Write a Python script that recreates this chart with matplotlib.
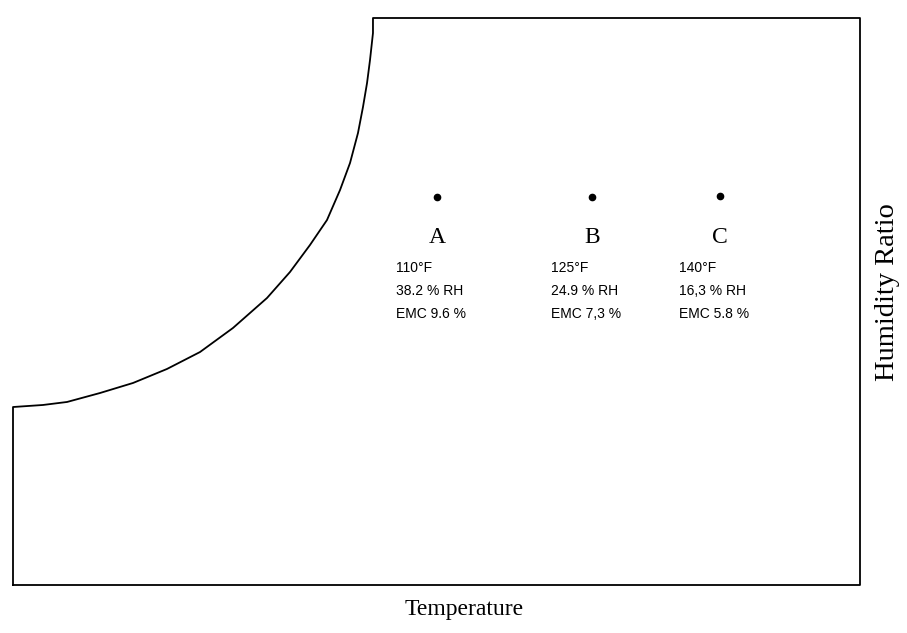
import matplotlib
matplotlib.use("Agg")
import matplotlib.pyplot as plt

# saturation curve (arbitrary units: temperature 0-100, humidity ratio 0-100)
sat_temp = [0.0, 3.54, 6.38, 10.27, 14.17, 18.18, 22.08, 25.97, 29.99, 32.70,
            35.06, 37.07, 38.61, 39.79, 40.73, 41.32, 41.80, 42.15, 42.50, 42.50]
sat_hr = [31.39, 31.75, 32.28, 33.86, 35.63, 38.10, 41.09, 45.33, 50.62, 55.20,
          59.96, 64.37, 69.66, 74.43, 79.72, 84.30, 88.54, 92.59, 97.35, 100.0]

# drying conditions
cond_names = ["A", "B", "C"]
cond_temp = [50.1, 68.4, 83.5]
cond_hr = [68.4, 68.4, 68.6]
cond_lines = [
    ["110°F", "38.2 % RH", "EMC 9.6 %"],
    ["125°F", "24.9 % RH", "EMC 7,3 %"],
    ["140°F", "16,3 % RH", "EMC 5.8 %"],
]

fig = plt.figure(figsize=(9.07, 6.33), dpi=100)
ax = fig.add_axes([13 / 907, 48 / 633, 847 / 907, 567 / 633])
ax.set_xlim(0, 100)
ax.set_ylim(0, 100)
for s in ax.spines.values():
    s.set_visible(False)
ax.set_xticks([])
ax.set_yticks([])

# outline: left wall, saturation curve, top, right, bottom
xs = [0] + sat_temp + [100, 100, 0]
ys = [0] + sat_hr + [100, 0, 0]
ax.plot(xs, ys, color="black", lw=1.3, clip_on=False, solid_joinstyle="round")

ax.plot(cond_temp, cond_hr, "o", color="black", ms=4.5, ls="none")
for name, x, lines in zip(cond_names, cond_temp, cond_lines):
    y = 68.4
    ax.text(x, y - 5.2, name, ha="center", va="top", fontsize=17,
            family="Liberation Serif")
    for i, ln in enumerate(lines):
        ax.text(x - 4.9, y - 11.3 - i * 4.05, ln, ha="left", va="top",
                fontsize=10, family="Liberation Sans")

fig.text(464 / 907, 1 - 610 / 633, "Temperature", ha="center", va="center",
         fontsize=17, family="Liberation Serif")
fig.text(888 / 907, 1 - 292 / 633, "Humidity Ratio", ha="center", va="center",
         rotation=90, fontsize=20.5, family="Liberation Serif")

fig.savefig("out.png", dpi=100, facecolor="white")
